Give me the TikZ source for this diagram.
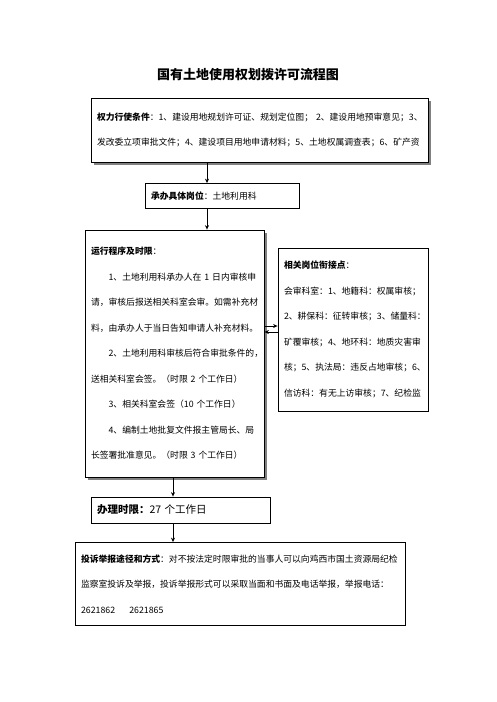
\documentclass[tikz,border=0pt]{standalone}
\usepackage{fontspec}
\setmainfont{Noto Sans CJK SC}
\usetikzlibrary{arrows.meta,shadows}
\begin{document}
\begin{tikzpicture}[x=1pt,y=-1pt,
  box/.style={draw, line width=0.8pt, fill=white, align=left, inner xsep=6pt, inner ysep=0pt,
              font=\fontsize{8.8}{25.5}\selectfont},
  shd/.style={drop shadow={shadow xshift=2.5pt, shadow yshift=-2.5pt, fill=black!50, opacity=1}},
  arr/.style={line width=0.8pt, -{Stealth[length=4.5pt,width=4pt]}}]
\useasboundingbox (0,0) rectangle (496,702);
\fill[white] (0,0) rectangle (496,702);

\node[font=\fontsize{13}{15}\selectfont\bfseries] (title) at (248,75) {国有土地使用权划拨许可流程图};

\node[box, shd, minimum width=337pt, minimum height=64pt, text width=325pt] (b1) at (259.5,130)
 {\mbox{\textbf{权力行使条件}：1、建设用地规划许可证、规划定位图；\ 2、建设用地预审意见；3、}\\
  \mbox{发改委立项审批文件；4、建设项目用地申请材料；5、土地权属调查表；6、矿产资}};

\node[box, minimum width=154pt, minimum height=25pt, text width=142pt] (b2) at (222,196)
 {\textbf{承办具体岗位}：土地利用科};

\node[box, shd, minimum width=179pt, minimum height=247pt, text width=167pt] (b3) at (174.5,353.5)
 {\textbf{运行程序及时限}：\\
  \hspace*{2em}1、土地利用科承办人在 1 日内审核申\\
  请，审核后报送相关科室会审。如需补充材\\
  料，由承办人于当日告知申请人补充材料。\\
  \hspace*{2em}2、土地利用科审核后符合审批条件的，\\
  送相关科室会签。（时限 2 个工作日）\\
  \hspace*{2em}3、相关科室会签（10 个工作日）\\
  \hspace*{2em}4、编制土地批复文件报主管局长、局\\
  长签署批准意见。（时限 3 个工作日）};

\node[box, minimum width=150pt, minimum height=163pt, text width=138pt] (b4) at (353,329.5)
 {\textbf{相关岗位衔接点}：\\
  会审科室：1、地籍科：权属审核；\\
  2、耕保科：征转审核；3、储量科：\\
  矿覆审核；4、地环科：地质灾害审\\
  核；5、执法局：违反占地审核；6、\\
  信访科：有无上访审核；7、纪检监};

\node[box, minimum width=179pt, minimum height=26pt, text width=167pt,
      font=\fontsize{10.5}{13}\selectfont] (b5) at (180.5,510)
 {\textbf{办理时限：}27 个工作日};

\node[box, minimum width=330pt, minimum height=83pt, text width=318pt] (b6) at (240,584)
 {\mbox{\textbf{投诉举报途径和方式}：对不按法定时限审批的当事人可以向鸡西市国土资源局纪检}\\
  \mbox{监察室投诉及举报，投诉举报形式可以采取当面和书面及电话举报，举报电话：}\\
  2621862\hspace{1.6em}2621865};

\coordinate (xa) at (207,0);
\coordinate (xb) at (173,0);
\coordinate (ya) at (0,326);
\coordinate (yb) at (0,332);
\draw[arr] (b1.south -| xa) -- (b2.north -| xa);
\draw[arr] (b2.south -| xa) -- (b3.north -| xa);
\draw[arr] (b3.east |- ya) -- (b4.west |- ya);
\draw[arr] (b4.west |- yb) -- (b3.east |- yb);
\draw[arr] (b3.south -| xb) -- (b5.north -| xb);
\draw[arr] (b5.south -| xb) -- (b6.north -| xb);
\end{tikzpicture}
\end{document}
